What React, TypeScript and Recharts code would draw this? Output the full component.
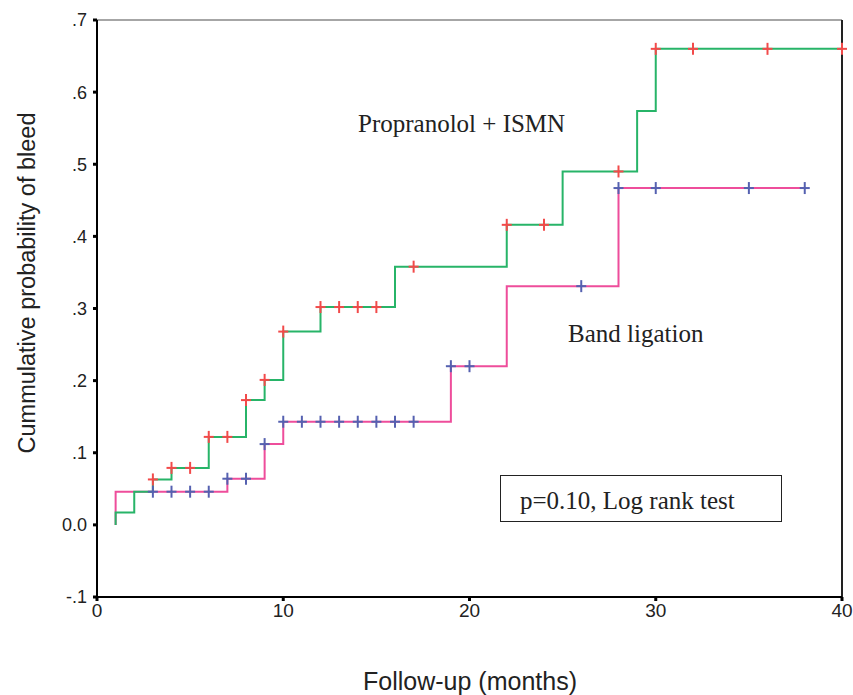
import {
  ComposedChart,
  Line,
  Scatter,
  XAxis,
  YAxis,
  ReferenceLine,
} from "recharts";

// step curves: time of each step and the level reached there
const propTimes = [1, 1, 2, 3, 4, 6, 8, 9, 10, 12, 16, 22, 25, 29, 30, 40];
const propLevels = [0, 0.017, 0.046, 0.063, 0.079, 0.122, 0.173, 0.201, 0.268, 0.302, 0.358, 0.416, 0.49, 0.574, 0.66, 0.66];
const bandTimes = [1, 1, 7, 9, 10, 19, 22, 28, 38];
const bandLevels = [0, 0.046, 0.064, 0.112, 0.143, 0.22, 0.331, 0.467, 0.467];

// censored observations (months)
const propCensored = [3, 4, 5, 6, 7, 8, 9, 10, 12, 13, 14, 15, 17, 22, 24, 28, 30, 32, 36, 40];
const bandCensored = [3, 4, 5, 6, 7, 8, 9, 10, 11, 12, 13, 14, 15, 16, 17, 19, 20, 26, 28, 30, 35, 38];

const xTicks = [0, 10, 20, 30, 40];
const yTicks = [-0.1, 0, 0.1, 0.2, 0.3, 0.4, 0.5, 0.6, 0.7];
const yTickLabels = ["-.1", "0.0", ".1", ".2", ".3", ".4", ".5", ".6", ".7"];

const toSteps = (times: number[], levels: number[]) =>
  times.map((t, i) => ({ t, v: levels[i] }));

// level of the curve at a censor time
const levelAt = (times: number[], levels: number[], c: number) => {
  let v = levels[0];
  times.forEach((t, i) => {
    if (t <= c) v = levels[i];
  });
  return v;
};

const toMarks = (times: number[], levels: number[], cens: number[]) =>
  cens.map((c) => ({ t: c, v: levelAt(times, levels, c) }));

const propSteps = toSteps(propTimes, propLevels);
const bandSteps = toSteps(bandTimes, bandLevels);
const propMarks = toMarks(propTimes, propLevels, propCensored);
const bandMarks = toMarks(bandTimes, bandLevels, bandCensored);

const Cross = (color: string) => (props: any) => {
  const { cx, cy } = props;
  return (
    <g>
      <line x1={cx - 5} x2={cx + 5} y1={cy} y2={cy} stroke={color} strokeWidth={2} />
      <line x1={cx} x2={cx} y1={cy - 6} y2={cy + 6} stroke={color} strokeWidth={2} />
    </g>
  );
};

const serif = "'Liberation Serif', 'Times New Roman', serif";
const sans = "'Liberation Sans', Arial, sans-serif";

const App = () => {
  return (
    <div style={{ position: "absolute", left: 0, top: 0, width: 853, height: 695, background: "#fff" }}>
      <ComposedChart
        width={853}
        height={695}
        margin={{ top: 20, right: 11, bottom: 0, left: 0 }}
      >
        <XAxis
          dataKey="t"
          type="number"
          domain={[0, 40]}
          ticks={xTicks}
          height={98}
          tickSize={4}
          tickMargin={3}
          axisLine={{ stroke: "#000", strokeWidth: 2 }}
          tickLine={{ stroke: "#000", strokeWidth: 3 }}
          tick={{ fontSize: 19, fill: "#222", fontFamily: sans }}
        />
        <YAxis
          type="number"
          domain={[-0.1, 0.7]}
          ticks={yTicks}
          width={97}
          tickSize={4}
          tickMargin={6}
          tickFormatter={(v: number) => yTickLabels[yTicks.findIndex((y) => Math.abs(y - v) < 1e-6)]}
          axisLine={{ stroke: "#000", strokeWidth: 2 }}
          tickLine={{ stroke: "#000", strokeWidth: 3 }}
          tick={{ fontSize: 18, fill: "#222", fontFamily: sans }}
        />
        <ReferenceLine y={0.7} stroke="#888" strokeWidth={1.5} />
        <ReferenceLine x={40} stroke="#222" strokeWidth={2} />
        <Line
          data={bandSteps}
          dataKey="v"
          type="stepAfter"
          stroke="#ee4d9b"
          strokeWidth={2}
          dot={false}
          isAnimationActive={false}
        />
        <Line
          data={propSteps}
          dataKey="v"
          type="stepAfter"
          stroke="#27b468"
          strokeWidth={2}
          dot={false}
          isAnimationActive={false}
        />
        <Scatter data={bandMarks} dataKey="v" shape={Cross("#5561b0")} isAnimationActive={false} />
        <Scatter data={propMarks} dataKey="v" shape={Cross("#f24a4a")} isAnimationActive={false} />
      </ComposedChart>
      <svg width={853} height={695} style={{ position: "absolute", left: 0, top: 0, pointerEvents: "none" }}>
        <text x={470} y={690} textAnchor="middle" fontFamily={sans} fontSize={25} fill="#222">
          Follow-up (months)
        </text>
        <text
          x={0}
          y={0}
          transform="translate(35 283) rotate(-90)"
          textAnchor="middle"
          fontFamily={sans}
          fontSize={23.5}
          fill="#222"
        >
          Cummulative probability of bleed
        </text>
      </svg>
      <div style={{ position: "absolute", left: 358, top: 110, fontFamily: serif, fontSize: 25, color: "#222" }}>
        Propranolol + ISMN
      </div>
      <div style={{ position: "absolute", left: 568, top: 320, fontFamily: serif, fontSize: 25, color: "#222" }}>
        Band ligation
      </div>
      <div
        style={{
          position: "absolute",
          left: 500,
          top: 475,
          width: 280,
          height: 45,
          border: "1.5px solid #222",
          fontFamily: serif,
          fontSize: 25,
          color: "#222",
          boxSizing: "content-box",
        }}
      >
        <div style={{ position: "absolute", left: 19, top: 11 }}>p=0.10, Log rank test</div>
      </div>
    </div>
  );
};

export default App;
